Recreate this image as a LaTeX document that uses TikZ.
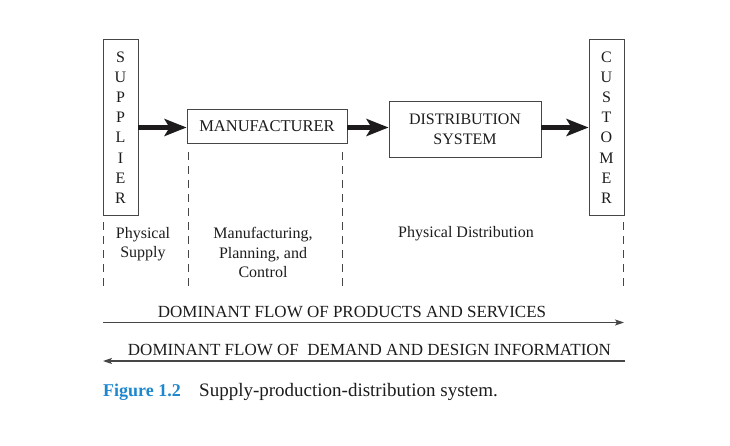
\documentclass[tikz,border=0pt]{standalone}
\usepackage{fontspec}
\setmainfont{Liberation Serif}
\usetikzlibrary{arrows.meta}
\definecolor{ink}{RGB}{30,27,28}
\definecolor{edge}{RGB}{70,70,70}
\definecolor{capblue}{RGB}{30,135,205}
\begin{document}
\begin{tikzpicture}[x=1pt,y=-1pt,
  box/.style={draw=edge,line width=0.9pt,inner sep=0pt,text=ink},
  vbox/.style={box,minimum width=35pt,minimum height=176pt},
  letters/.style={align=center,text=ink,font=\fontsize{16}{20.2}\selectfont},
  bigarrow/.style={draw=ink,line width=5pt,-{Stealth[length=22pt,width=17pt,inset=5pt]}},
  flow/.style={draw=edge,line width=1.2pt,-{Stealth[length=9pt,width=6pt,inset=2pt]}},
  sep/.style={draw=edge,line width=0.8pt,dash pattern=on 8pt off 6pt},
  lbl/.style={text=ink,align=center,font=\fontsize{16}{19.5}\selectfont},
  caplbl/.style={text=ink,font=\fontsize{17}{20}\selectfont}]
\useasboundingbox (0,0) rectangle (730,446);
% boxes
\node[vbox] (sup) at (120.5,127.5) {};
\node[letters] at (sup.center) {S\\U\\P\\P\\L\\I\\E\\R};
\node[vbox] (cus) at (606.5,127.5) {};
\node[letters] at (cus.center) {C\\U\\S\\T\\O\\M\\E\\R};
\node[box,minimum width=160pt,minimum height=34pt,font=\fontsize{16.5}{20}\selectfont] (man) at (267,126.5) {MANUFACTURER};
\node[box,minimum width=152pt,minimum height=56pt,align=center,font=\fontsize{16}{20}\selectfont] (dis) at (465,129) {DISTRIBUTION\\SYSTEM};
% thick arrows
\draw[bigarrow] (sup.east |- 0,127.5) -- (man.west |- 0,127.5);
\draw[bigarrow] (man.east |- 0,127.5) -- (dis.west |- 0,127.5);
\draw[bigarrow] (dis.east |- 0,127.5) -- (cus.west |- 0,127.5);
% dashed separators
\coordinate (s1) at (103,222); \coordinate (s1e) at (103,291);
\coordinate (m1) at (188,152); \coordinate (m1e) at (188,291);
\coordinate (m2) at (342,152); \coordinate (m2e) at (342,291);
\coordinate (c1) at (623,222); \coordinate (c1e) at (623,291);
\draw[sep] (s1) -- (s1e);
\draw[sep] (m1) -- (m1e);
\draw[sep] (m2) -- (m2e);
\draw[sep] (c1) -- (c1e);
% region labels
\node[lbl] (ps) at (143,244) {Physical\\Supply};
\node[lbl] (mpc) at (263,252.5) {Manufacturing,\\Planning, and\\Control};
\node[lbl] (pd) at (466,233.5) {Physical Distribution};
% flows
\coordinate (fl1) at (103,322.5); \coordinate (fr1) at (624,322.5);
\coordinate (fl2) at (103,361); \coordinate (fr2) at (625,361);
\draw[flow] (fl1) -- (fr1);
\draw[flow] (fr2) -- (fl2);
\node[caplbl] (t1) at (352,311.5) {DOMINANT FLOW OF PRODUCTS AND SERVICES};
\node[caplbl] (t2) at (369.5,349.5) {DOMINANT FLOW OF\ \ DEMAND AND DESIGN INFORMATION};
% caption
\node[anchor=base west,inner sep=0pt,text=capblue,font=\fontsize{18}{20}\selectfont\bfseries] (fig) at (103,396) {Figure 1.2};
\node[anchor=base west,inner sep=0pt,text=ink,font=\fontsize{19}{20}\selectfont] (cap) at (199,396) {Supply-production-distribution system.};
\end{tikzpicture}
\end{document}
